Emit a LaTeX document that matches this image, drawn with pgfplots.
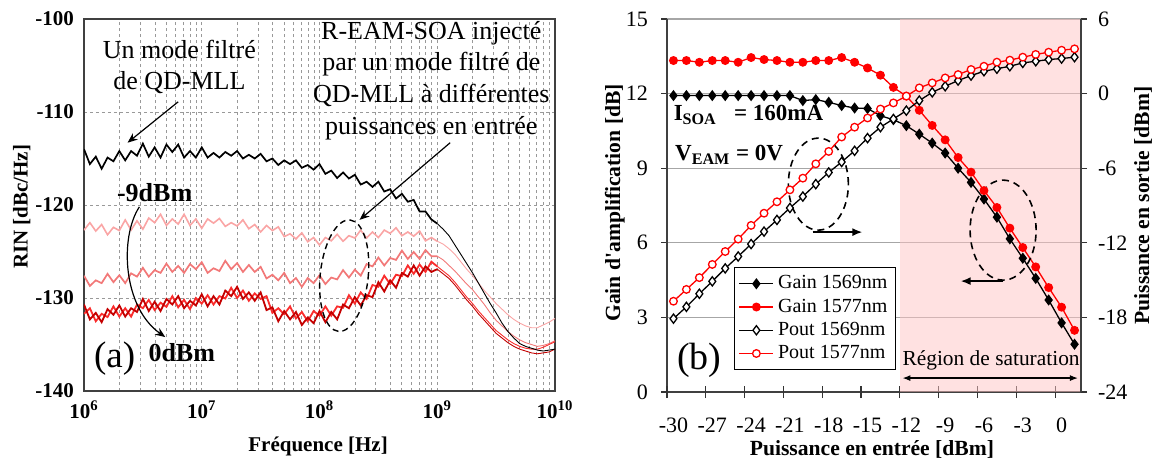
\documentclass[border=0pt]{standalone}
\usepackage{pgfplots}
\pgfplotsset{compat=1.18}
\usepackage{fontspec}
\setmainfont{Liberation Serif}
\usetikzlibrary{arrows.meta}

\definecolor{pinkA}{RGB}{250,165,165}
\definecolor{pinkB}{RGB}{242,120,120}
\definecolor{redC}{RGB}{250,45,45}
\definecolor{redD}{RGB}{196,0,0}
\definecolor{satfill}{RGB}{255,195,195}
\definecolor{fullred}{RGB}{255,0,0}

\pgfplotstableread{
x y
6.00 -114.0
6.05 -115.6
6.10 -114.8
6.15 -116.1
6.20 -114.9
6.25 -115.3
6.30 -114.2
6.35 -115.2
6.40 -114.2
6.45 -114.7
6.50 -113.4
6.55 -114.8
6.60 -113.8
6.65 -114.9
6.70 -113.5
6.75 -114.3
6.80 -113.5
6.85 -114.9
6.90 -114.2
6.95 -114.9
7.00 -113.8
7.05 -114.9
7.10 -114.4
7.15 -114.9
7.20 -114.3
7.25 -114.7
7.30 -114.2
7.35 -115.0
7.40 -114.6
7.45 -115.0
7.50 -114.5
7.55 -115.3
7.60 -115.0
7.65 -115.7
7.70 -115.2
7.75 -115.6
7.80 -115.2
7.85 -116.0
7.90 -115.7
7.95 -116.2
8.00 -115.6
8.05 -116.65
8.10 -116.3
8.15 -117.1
8.20 -116.5
8.25 -117.15
8.30 -116.75
8.35 -117.8
8.40 -117.5
8.45 -118.05
8.50 -117.5
8.55 -118.55
8.60 -118.3
8.65 -119.3
8.70 -118.8
8.75 -119.65
8.80 -119.45
8.85 -120.7
8.90 -120.7
8.95 -121.55
9.00 -122.0
9.05 -122.6
9.10 -123.3
9.15 -124.3
9.20 -125.3
9.25 -126.3
9.30 -127.3
9.35 -128.4
9.40 -129.5
9.45 -130.6
9.50 -131.6
9.55 -132.7
9.60 -133.6
9.65 -134.3
9.70 -134.9
9.75 -135.2
9.80 -135.4
9.85 -135.6
9.90 -135.7
9.95 -135.6
10.0 -135.5
}\rinblack

\pgfplotstableread{
x y
6.00 -122.7
6.05 -121.9
6.10 -122.8
6.15 -122.1
6.20 -123.2
6.25 -122.4
6.30 -122.75
6.35 -121.6
6.40 -122.7
6.45 -121.7
6.50 -122.6
6.55 -121.4
6.60 -121.9
6.65 -121.0
6.70 -122.2
6.75 -121.5
6.80 -122.05
6.85 -121.0
6.90 -122.2
6.95 -121.5
7.00 -122.5
7.05 -121.5
7.10 -121.95
7.15 -121.45
7.20 -122.3
7.25 -121.9
7.30 -122.25
7.35 -121.6
7.40 -122.55
7.45 -122.1
7.50 -122.9
7.55 -122.2
7.60 -122.75
7.65 -122.35
7.70 -123.4
7.75 -123.1
7.80 -123.65
7.85 -123.0
7.90 -123.95
7.95 -123.5
8.00 -124.3
8.05 -123.5
8.10 -123.85
8.15 -123.15
8.20 -123.9
8.25 -123.3
8.30 -123.55
8.35 -122.7
8.40 -123.55
8.45 -122.9
8.50 -123.5
8.55 -122.7
8.60 -123.05
8.65 -122.45
8.70 -123.3
8.75 -122.9
8.80 -123.35
8.85 -122.8
8.90 -123.85
8.95 -123.5
9.00 -123.9
9.05 -124.2
9.10 -124.7
9.15 -125.3
9.20 -126.1
9.25 -126.9
9.30 -127.6
9.35 -128.4
9.40 -129.2
9.45 -129.9
9.50 -130.6
9.55 -131.2
9.60 -131.8
9.65 -132.3
9.70 -132.7
9.75 -133.0
9.80 -133.2
9.85 -133.2
9.90 -132.9
9.95 -132.6
10.0 -132.2
}\rinpinkA

\pgfplotstableread{
x y
6.00 -127.6
6.05 -128.7
6.10 -128.1
6.15 -128.4
6.20 -127.4
6.25 -128.3
6.30 -127.55
6.35 -128.4
6.40 -127.35
6.45 -127.7
6.50 -126.75
6.55 -127.7
6.60 -127.0
6.65 -127.3
6.70 -126.3
6.75 -127.2
6.80 -126.55
6.85 -127.3
6.90 -126.35
6.95 -126.9
7.00 -126.15
7.05 -127.3
7.10 -126.8
7.15 -127.1
7.20 -126.0
7.25 -126.9
7.30 -126.25
7.35 -127.2
7.40 -126.45
7.45 -127.2
7.50 -126.65
7.55 -127.9
7.60 -127.5
7.65 -128.1
7.70 -127.3
7.75 -128.4
7.80 -127.85
7.85 -128.8
7.90 -127.85
7.95 -128.4
8.00 -127.55
8.05 -128.5
8.10 -127.8
8.15 -128.0
8.20 -127.0
8.25 -127.8
8.30 -126.95
8.35 -127.6
8.40 -126.35
8.45 -126.6
8.50 -125.65
8.55 -126.5
8.60 -125.7
8.65 -125.9
8.70 -124.9
8.75 -125.8
8.80 -125.05
8.85 -125.8
8.90 -124.85
8.95 -125.5
9.00 -125.5
9.05 -125.9
9.10 -126.5
9.15 -127.1
9.20 -127.8
9.25 -128.5
9.30 -129.1
9.35 -129.9
9.40 -130.7
9.45 -131.6
9.50 -132.4
9.55 -133.0
9.60 -133.6
9.65 -134.1
9.70 -134.5
9.75 -134.8
9.80 -135.0
9.85 -135.2
9.90 -135.1
9.95 -134.9
10.0 -134.6
}\rinpinkB

\pgfplotstableread{
x y
6.00 -131.7
6.05 -131.1
6.10 -132.5
6.15 -131.7
6.20 -132.05
6.25 -130.9
6.30 -132.0
6.35 -131.1
6.40 -132.0
6.45 -130.7
6.50 -131.1
6.55 -130.2
6.60 -131.3
6.65 -130.5
6.70 -130.95
6.75 -129.8
6.80 -131.0
6.85 -130.2
6.90 -131.2
6.95 -130.0
7.00 -130.6
7.05 -129.7
7.10 -130.7
7.15 -129.8
7.20 -130.05
7.25 -128.9
7.30 -130.0
7.35 -129.2
7.40 -130.3
7.45 -129.5
7.50 -130.1
7.55 -129.8
7.60 -131.6
7.65 -131.1
7.70 -131.75
7.75 -130.9
7.80 -132.2
7.85 -131.5
7.90 -132.5
7.95 -131.4
8.00 -131.9
8.05 -130.9
8.10 -131.9
8.15 -130.9
8.20 -131.05
8.25 -129.7
8.30 -130.6
8.35 -129.4
8.40 -130.1
8.45 -128.6
8.50 -128.8
8.55 -127.6
8.60 -128.5
8.65 -127.5
8.70 -127.65
8.75 -126.5
8.80 -127.4
8.85 -126.4
8.90 -127.2
8.95 -126.1
9.00 -126.6
9.05 -127.1
9.10 -127.6
9.15 -128.3
9.20 -129.1
9.25 -129.9
9.30 -130.6
9.35 -131.4
9.40 -132.1
9.45 -132.8
9.50 -133.5
9.55 -134.0
9.60 -134.5
9.65 -134.9
9.70 -135.2
9.75 -135.4
9.80 -135.5
9.85 -135.5
9.90 -135.3
9.95 -135.0
10.0 -134.7
}\rinredC

\pgfplotstableread{
x y
6.00 -130.7
6.05 -132.3
6.10 -131.6
6.15 -132.6
6.20 -131.2
6.25 -131.8
6.30 -130.8
6.35 -132.0
6.40 -131.1
6.45 -131.5
6.50 -130.1
6.55 -131.4
6.60 -130.4
6.65 -131.4
6.70 -130.1
6.75 -130.7
6.80 -129.8
6.85 -131.1
6.90 -130.3
6.95 -130.8
7.00 -129.6
7.05 -130.9
7.10 -129.8
7.15 -130.7
7.20 -129.2
7.25 -129.8
7.30 -128.8
7.35 -130.1
7.40 -129.4
7.45 -130.3
7.50 -129.4
7.55 -131.3
7.60 -131.0
7.65 -132.5
7.70 -131.4
7.75 -132.3
7.80 -131.5
7.85 -132.9
7.90 -132.1
7.95 -132.7
8.00 -131.4
8.05 -132.6
8.10 -131.5
8.15 -132.3
8.20 -130.7
8.25 -131.1
8.30 -129.9
8.35 -130.8
8.40 -129.7
8.45 -129.9
8.50 -128.3
8.55 -129.3
8.60 -128.1
8.65 -128.9
8.70 -127.3
8.75 -127.7
8.80 -126.5
8.85 -127.6
8.90 -126.6
8.95 -127.2
9.00 -126.9
9.05 -127.4
9.10 -127.9
9.15 -128.6
9.20 -129.4
9.25 -130.2
9.30 -130.9
9.35 -131.7
9.40 -132.4
9.45 -133.1
9.50 -133.8
9.55 -134.3
9.60 -134.8
9.65 -135.2
9.70 -135.5
9.75 -135.7
9.80 -135.9
9.85 -136.0
9.90 -135.9
9.95 -135.8
10.0 -135.5
}\rinredD

\pgfplotstableread{
x g1569 g1577 p1569 p1577
-30 11.92 13.33 -18.1 -16.7
-29 11.92 13.33 -17.15 -15.75
-28 11.92 13.26 -16.1 -14.8
-27 11.92 13.33 -15.1 -13.74
-26 11.92 13.33 -14.06 -12.7
-25 11.92 13.26 -13.1 -11.7
-24 11.92 13.45 -12.1 -10.6
-23 11.92 13.37 -11.1 -9.62
-22 11.92 13.33 -10.16 -8.7
-21 11.92 13.26 -9.2 -7.74
-20 11.72 13.26 -8.28 -6.8
-19 11.76 13.33 -7.28 -5.65
-18 11.65 13.33 -6.34 -4.65
-17 11.52 13.45 -5.5 -3.49
-16 11.42 13.26 -4.6 -2.7
-15 11.40 13.03 -3.58 -1.96
-14 11.11 12.74 -2.7 -1.24
-13 10.95 12.25 -2.04 -0.75
-12 10.71 11.9 -1.37 -0.2
-11 10.37 11.33 -0.56 0.46
-10 10.01 10.72 0.1 0.86
-9 9.61 10.14 0.59 1.26
-8 9.0 9.43 1.05 1.53
-7 8.43 8.84 1.45 1.94
-6 7.76 8.10 1.8 2.2
-5 7.03 7.42 2.0 2.53
-4 6.16 6.59 2.2 2.69
-3 5.38 5.81 2.47 2.93
-2 4.57 5.03 2.6 3.15
-1 3.70 4.2 2.74 3.33
0 2.78 3.41 2.82 3.49
1 1.92 2.48 2.93 3.6
}\soatable

\tikzset{
  g69/.style={black, line width=0.65pt, mark=diamond*, mark size=2.3pt, mark options={solid, fill=black}},
  g77/.style={fullred, line width=0.65pt, mark=*, mark size=1.9pt, mark options={solid, fill=fullred}},
  p69/.style={black, line width=0.65pt, mark=diamond*, mark size=2.3pt, mark options={solid, fill=white, draw=black}},
  p77/.style={fullred, line width=0.65pt, mark=*, mark size=1.9pt, mark options={solid, fill=white, draw=fullred}},
}

\begin{document}
\begin{tikzpicture}
\path[use as bounding box] (0,0) rectangle (578.5pt,-230.5pt);

% ---------------- (a) RIN ----------------
\begin{axis}[
  at={(42pt,-195.5pt)}, anchor=south west,
  scale only axis, width=235.5pt, height=186pt,
  xmin=6, xmax=10, ymin=-140, ymax=-100,
  xtick={6,7,8,9,10},
  xticklabels={\textbf{10\textsuperscript{6}},\textbf{10\textsuperscript{7}},\textbf{10\textsuperscript{8}},\textbf{10\textsuperscript{9}},\textbf{10\textsuperscript{10}}},
  minor xtick={6.301,6.477,6.602,6.699,6.778,6.845,6.903,6.954,7.301,7.477,7.602,7.699,7.778,7.845,7.903,7.954,8.301,8.477,8.602,8.699,8.778,8.845,8.903,8.954,9.301,9.477,9.602,9.699,9.778,9.845,9.903,9.954},
  ytick={-140,-130,-120,-110,-100},
  grid=both,
  grid style={gray!80, dash pattern=on 1.6pt off 1.4pt, line width=0.35pt},
  minor grid style={gray!80, dash pattern=on 1.6pt off 1.4pt, line width=0.35pt},
  major tick length=0pt, minor tick length=0pt,
  axis line style={black!75, line width=0.6pt},
  tick label style={font=\fontsize{10.5}{12}\selectfont\bfseries},
  /pgf/number format/assume math mode=true,
  yticklabel style={xshift=-1.5pt},
  xticklabel style={yshift=-1.5pt},
  xlabel={Fréquence [Hz]}, ylabel={RIN [dBc/Hz]},
  label style={font=\fontsize{10.5}{12}\selectfont\bfseries},
  xlabel style={at={(axis description cs:0.497,-0.15)}, anchor=center},
  ylabel style={at={(axis description cs:-0.132,0.495)}, anchor=center},
]
% noisy part (below 1 GHz) drawn thicker, smooth part thinner
\addplot[pinkA, line width=0.8pt, restrict x to domain=6:9] table[x=x,y=y] {\rinpinkA};
\addplot[pinkA, line width=0.45pt, restrict x to domain=9:10] table[x=x,y=y] {\rinpinkA};
\addplot[pinkB, line width=0.85pt, restrict x to domain=6:9] table[x=x,y=y] {\rinpinkB};
\addplot[pinkB, line width=0.45pt, restrict x to domain=9:10] table[x=x,y=y] {\rinpinkB};
\addplot[redC, line width=0.9pt, restrict x to domain=6:9] table[x=x,y=y] {\rinredC};
\addplot[redC, line width=0.45pt, restrict x to domain=9:10] table[x=x,y=y] {\rinredC};
\addplot[redD, line width=0.9pt, restrict x to domain=6:9] table[x=x,y=y] {\rinredD};
\addplot[redD, line width=0.45pt, restrict x to domain=9:10] table[x=x,y=y] {\rinredD};
\addplot[black, line width=0.85pt, restrict x to domain=6:9] table[x=x,y=y] {\rinblack};
\addplot[black, line width=0.45pt, restrict x to domain=9:10] table[x=x,y=y] {\rinblack};

\node[align=center, font=\fontsize{13}{15.5}\selectfont] at (axis cs:6.81,-105.2) {Un mode filtré\\de QD-MLL};
\node[align=center, font=\fontsize{13}{15.8}\selectfont] at (axis cs:8.95,-106.6) {R-EAM-SOA injecté\\par un mode filtré de\\QD-MLL à différentes\\puissances en entrée};
\draw[-{Stealth[length=5pt,width=4pt]}, line width=0.6pt] (axis cs:6.80,-108.9) -- (axis cs:6.37,-113.3);
\draw[-{Stealth[length=5pt,width=4pt]}, line width=0.6pt] (axis cs:9.11,-113.3) -- (axis cs:8.34,-121.6);
\draw[line width=0.7pt, dash pattern=on 3pt off 2pt, rotate around={-6:(axis cs:8.21,-127.6)}] (axis cs:8.21,-127.6) ellipse [x radius=12pt, y radius=28pt];
\node[font=\fontsize{13}{15}\selectfont\bfseries] at (axis cs:6.60,-118.7) {-9dBm};
\node[font=\fontsize{13}{15}\selectfont\bfseries] at (axis cs:6.83,-135.9) {0dBm};
\node[font=\fontsize{18.5}{20}\selectfont] at (axis cs:6.26,-136.5) {(a)};
\draw[-{Stealth[length=5pt,width=4pt]}, line width=0.6pt] (axis cs:6.47,-120.2) .. controls (axis cs:6.30,-123.5) and (axis cs:6.33,-131) .. (axis cs:6.69,-134.2);
\end{axis}

% ---------------- (b) Gain / Pout ----------------
\begin{axis}[
  at={(333.5pt,-196pt)}, anchor=south west,
  scale only axis, width=207pt, height=186.5pt,
  xmin=-30.5, xmax=1.5, ymin=0, ymax=15,
  axis x line*=bottom, axis y line*=left,
  xtick={-30,-27,...,0}, ytick={0,3,...,15},
  ymajorgrids, grid style={gray!70, line width=0.6pt},
  tick align=outside, major tick length=3pt,
  xtick style={draw=none},
  extra x ticks={-30.5,-27.5,-24.5,-21.5,-18.5,-15.5,-12.5,-9.5,-6.5,-3.5,-0.5},
  extra x tick labels={},
  extra x tick style={xtick style={draw=black!80, line width=0.6pt}, tick align=center, major tick length=6pt},
  ytick style={draw=black!80, line width=0.6pt},
  axis line style={black!75, line width=0.6pt},
  tick label style={font=\fontsize{11}{13}\selectfont},
  xticklabel style={yshift=-6.5pt},
  yticklabel style={xshift=-3pt},
  /pgf/number format/assume math mode=true,
  xlabel={Puissance en entrée [dBm]}, ylabel={Gain d\textquotesingle amplification [dB]},
  label style={font=\fontsize{10.8}{12}\selectfont\bfseries},
  xlabel style={at={(axis description cs:0.495,-0.153)}, anchor=center},
  ylabel style={at={(axis description cs:-0.126,0.507)}, anchor=center},
]
\addplot[fill=satfill, fill opacity=0.5, draw=none, forget plot] coordinates {(-12.5,0) (-12.5,15) (1.5,15) (1.5,0)} -- cycle;
\addplot[g69] table[x=x,y=g1569] {\soatable};
\addplot[g77] table[x=x,y=g1577] {\soatable};

\node[font=\fontsize{11.5}{13}\selectfont\bfseries] at (axis cs:-24.2,11.14) {I\textsubscript{SOA}\ \ \ = 160mA};
\node[font=\fontsize{11.5}{13}\selectfont\bfseries] at (axis cs:-25.7,9.53) {V\textsubscript{EAM} = 0V};
\node[font=\fontsize{19}{20}\selectfont] at (axis cs:-28.0,1.29) {(b)};
\node[font=\fontsize{10.7}{12}\selectfont] at (axis cs:-5.45,1.29) {Région de saturation};
\draw[{Latex[length=4pt,width=3pt]}-{Latex[length=4pt,width=3pt]}, line width=0.6pt] (axis cs:-12.3,0.56) -- (axis cs:1.26,0.56);
\draw[line width=0.8pt, dash pattern=on 3.5pt off 2.5pt] (axis cs:-18.8,8.36) ellipse [x radius=15pt, y radius=23pt];
\draw[line width=0.8pt, dash pattern=on 3.5pt off 2.5pt] (axis cs:-4.52,6.51) ellipse [x radius=16.5pt, y radius=25pt];
\draw[-{Latex[length=5pt,width=4pt]}, line width=0.8pt] (axis cs:-19.25,6.43) -- (axis cs:-15.4,6.43);
\draw[-{Latex[length=5pt,width=4pt]}, line width=0.8pt] (axis cs:-4.5,4.46) -- (axis cs:-7.8,4.46);
\end{axis}

\begin{axis}[
  at={(333.5pt,-196pt)}, anchor=south west,
  scale only axis, width=207pt, height=186.5pt,
  xmin=-30.5, xmax=1.5, ymin=-24, ymax=6,
  axis x line=none, axis y line*=right,
  ytick={-24,-18,...,6},
  tick align=outside, major tick length=3pt,
  ytick style={draw=black!80, line width=0.6pt},
  axis line style={black!75, line width=0.6pt},
  tick label style={font=\fontsize{11}{13}\selectfont},
  yticklabel style={xshift=2pt},
  /pgf/number format/assume math mode=true,
  ylabel={Puissance en sortie [dBm]},
  label style={font=\fontsize{10.8}{12}\selectfont\bfseries},
  ylabel style={at={(axis description cs:1.15,0.50)}, anchor=center},
  legend style={at={(axis description cs:0.162,0.335)}, anchor=north west,
    draw=black, line width=0.6pt, fill=white,
    font=\fontsize{10}{12}\selectfont, row sep=-0.5pt,
    inner xsep=2pt, inner ysep=2pt},
  legend cell align=left,
]
\addlegendimage{g69}
\addlegendimage{g77}
\addplot[p69] table[x=x,y=p1569] {\soatable};
\addplot[p77] table[x=x,y=p1577] {\soatable};
\legend{Gain 1569nm, Gain 1577nm, Pout 1569nm, Pout 1577nm}
\end{axis}
\end{tikzpicture}
\end{document}
